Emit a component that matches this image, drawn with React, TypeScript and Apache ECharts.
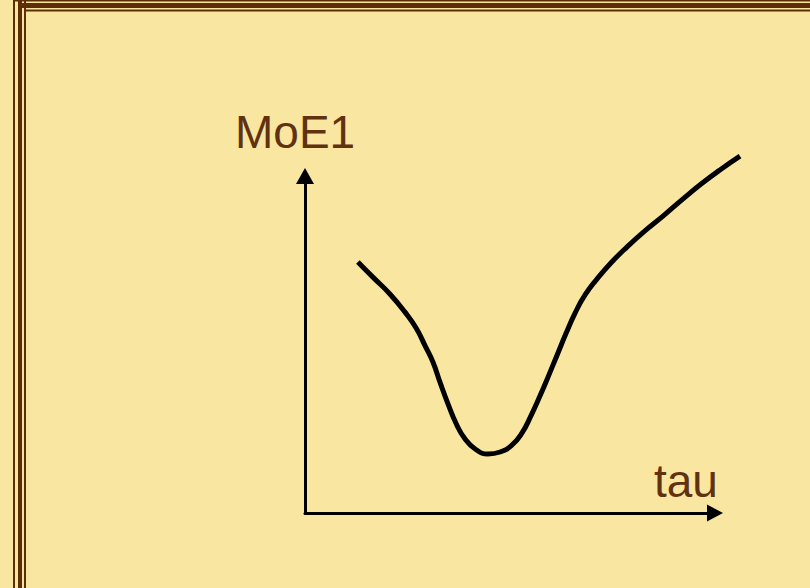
import React, { useEffect, useRef } from "react";
import * as echarts from "echarts";

// Curve MoE1(tau) (arbitrary units, axis arrows end at 10)
const tauValues = [1.29, 1.68, 2.07, 2.44, 2.71, 2.93, 3.12, 3.29, 3.49, 3.68, 3.9, 4.15, 4.46, 4.76, 5.05, 5.29, 5.51, 5.73, 5.93, 6.15, 6.37, 6.59, 6.83, 7.12, 7.46, 7.85, 8.29, 8.76, 9.22, 9.66, 10.12, 10.61];
const moeValues = [7.45, 6.97, 6.5, 5.96, 5.49, 4.96, 4.48, 3.89, 3.23, 2.67, 2.2, 1.9, 1.75, 1.81, 2.02, 2.37, 2.88, 3.47, 4.04, 4.69, 5.34, 5.94, 6.47, 6.94, 7.42, 7.89, 8.37, 8.84, 9.32, 9.76, 10.18, 10.59];
const xLabel = "tau";
const yLabel = "MoE1";

const BG = "#F9E6A0";
const BROWN = "#5E2E08";
const TEXT = "#603210";

const hiddenAxis = (gridIndex: number, max: number) => ({
  type: "value",
  gridIndex,
  min: 0,
  max,
  show: false,
  splitLine: { show: false },
});

export default function App() {
  const ref = useRef<HTMLDivElement>(null);
  useEffect(() => {
    if (!ref.current) return;
    const chart = echarts.init(ref.current, null, { renderer: "svg" });
    const data = tauValues.map((t, i) => [t, moeValues[i]]);
    chart.setOption({
      animation: false,
      backgroundColor: BG,
      grid: [
        { left: 305, right: 95, top: 176, bottom: 75 },
        { left: 305, right: 54, top: 142.3, bottom: 75 },
      ],
      xAxis: [
        {
          type: "value",
          gridIndex: 0,
          min: 0,
          max: 10,
          axisLine: {
            show: true,
            symbol: ["none", "triangle"],
            symbolSize: [17, 16],
            lineStyle: { color: "#000", width: 3 },
          },
          axisTick: { show: false },
          axisLabel: { show: false },
          splitLine: { show: false },
        },
        hiddenAxis(1, 11),
      ],
      yAxis: [
        {
          type: "value",
          gridIndex: 0,
          min: 0,
          max: 10,
          axisLine: {
            show: true,
            symbol: ["none", "triangle"],
            symbolSize: [18, 16],
            lineStyle: { color: "#000", width: 3 },
          },
          axisTick: { show: false },
          axisLabel: { show: false },
          splitLine: { show: false },
        },
        hiddenAxis(1, 11),
      ],
      series: [
        {
          type: "line",
          xAxisIndex: 1,
          yAxisIndex: 1,
          data,
          smooth: 0.5,
          showSymbol: false,
          lineStyle: { color: "#000", width: 5, cap: "butt" },
        },
      ],
      graphic: [
        { type: "rect", shape: { x: 13, y: 0, width: 2, height: 588 }, style: { fill: BROWN } },
        { type: "rect", shape: { x: 18, y: 0, width: 4, height: 588 }, style: { fill: BROWN } },
        { type: "rect", shape: { x: 24, y: 0, width: 2, height: 588 }, style: { fill: BROWN } },
        { type: "rect", shape: { x: 13, y: 0, width: 797, height: 1.5 }, style: { fill: BROWN } },
        { type: "rect", shape: { x: 18, y: 3, width: 792, height: 5 }, style: { fill: BROWN } },
        { type: "rect", shape: { x: 24, y: 9.5, width: 786, height: 2 }, style: { fill: BROWN } },
        {
          type: "text",
          x: 235,
          y: 109,
          style: {
            text: yLabel,
            fill: TEXT,
            font: "46px 'Liberation Sans', Arial, sans-serif",
          },
        },
        {
          type: "text",
          x: 654,
          y: 458,
          style: {
            text: xLabel,
            fill: TEXT,
            font: "46px 'Liberation Sans', Arial, sans-serif",
          },
        },
      ],
    });
    return () => chart.dispose();
  }, []);
  return (
    <div
      ref={ref}
      style={{ position: "fixed", left: 0, top: 0, width: 810, height: 588 }}
    />
  );
}
